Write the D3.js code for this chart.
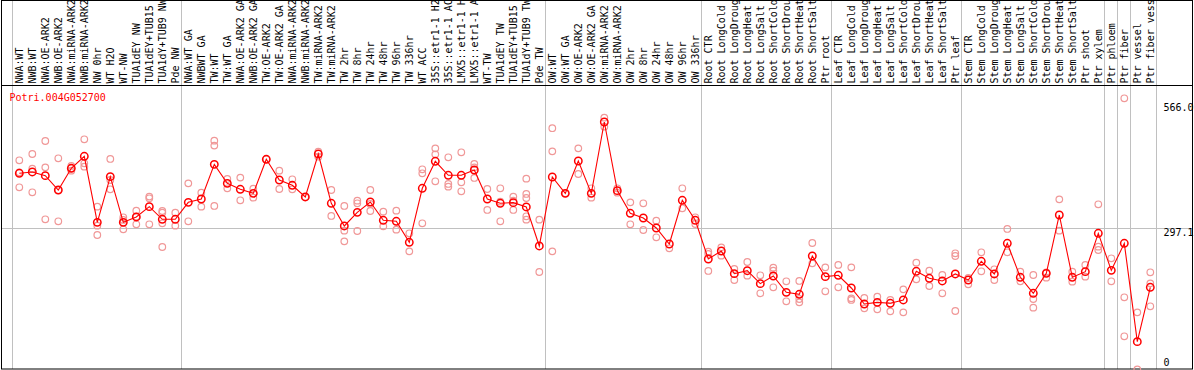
<!DOCTYPE html>
<html><head><meta charset="utf-8">
<script src="https://cdn.jsdelivr.net/npm/d3@7"></script>
<style>
html,body{margin:0;padding:0;background:#fff;}
svg{display:block;}
text{font-family:"DejaVu Sans Mono",monospace;font-size:10px;}
</style></head>
<body><svg id="chart" width="1194" height="370"></svg>
<script>
const geneName = "Potri.004G052700";
const categories = ["NWA:WT","NWB:WT","NWA:OE-ARK2","NWB:OE-ARK2","NWA:miRNA-ARK2","NWB:miRNA-ARK2","NW 0hr","WT H2O","WT-NW","TUA1dEY NW","TUA1dEY+TUB15 NW","TUA1dY+TUB9 NW","Pde NW","NWA:WT GA","NWBWT GA","TW:WT","TW:WT GA","NWA:OE-ARK2 GA","NWB:OE-ARK2 GA","TW:OE-ARK2","TW:OE-ARK2 GA","NWA:miRNA-ARK2 GA","NWB:miRNA-ARK2 GA","TW:miRNA-ARK2","TW:miRNA-ARK2 GA","TW 2hr","TW 8hr","TW 24hr","TW 48hr","TW 96hr","TW 336hr","WT ACC","35S::etr1-1 H2O","35S::etr1-1 ACC","LMX5::etr1-1 H2O","LMX5::etr1-1 ACC","WT-TW","TUA1dEY TW","TUA1dEY+TUB15 TW","TUA1dY+TUB9 TW","Pde TW","OW:WT","OW:WT GA","OW:OE-ARK2","OW:OE-ARK2 GA","OW:miRNA-ARK2","OW:miRNA-ARK2 GA","OW 2hr","OW 8hr","OW 24hr","OW 48hr","OW 96hr","OW 336hr","Root CTR","Root LongCold","Root LongDrought","Root LongHeat","Root LongSalt","Root ShortCold","Root ShortDrought","Root ShortHeat","Root ShortSalt","Ptr root","Leaf CTR","Leaf LongCold","Leaf LongDrought","Leaf LongHeat","Leaf LongSalt","Leaf ShortCold","Leaf ShortDrought","Leaf ShortHeat","Leaf ShortSalt","Ptr leaf","Stem CTR","Stem LongCold","Stem LongDrought","Stem LongHeat","Stem LongSalt","Stem ShortCold","Stem ShortDrought","Stem ShortHeat","Stem ShortSalt","Ptr shoot","Ptr xylem","Ptr phloem","Ptr fiber","Ptr vessel","Ptr fiber vessel"];
const means = [410.8,413.6,406.0,376.3,421.2,446.0,309.4,403.9,309.4,320.5,341.9,315.7,315.7,350.8,357.7,429.4,390.1,377.7,369.4,439.8,397.0,386.0,361.9,450.8,348.8,301.9,330.1,351.5,313.6,311.5,268.1,379.8,435.7,406.7,406.7,417.7,357.7,348.8,350.1,341.2,260.5,403.2,369.4,436.3,369.4,517.0,375.0,328.1,318.4,297.7,264.6,355.0,313.6,233.6,250.1,203.2,209.4,182.6,198.4,164.6,160.5,239.8,197.0,199.8,173.6,140.5,143.9,141.9,148.8,208.1,193.6,188.1,202.6,190.1,228.8,202.6,266.0,195.7,162.6,203.9,324.6,195.7,207.4,286.7,210.1,266.0,62.6,175.0];
const replicates = [
[437.7,412.9,381.9],[450.8,420.5,371.5],[477.7,423.2,315.7],[441.9,375.7,311.5],[426.0,421.2,416.3],[481.2,431.5,424.6],[341.9,302.6,283.2],[440.5,397.0,377.7],[319.8,314.3,295.0],[333.6,321.2,305.3],
[362.6,359.1,305.3],[332.9,329.4,307.4,258.4],[329.4,302.6],[390.1,311.5],[370.8,341.9],[478.4,468.1,343.3],[399.1,379.8],[401.9,355.0],[379.1,360.5],[439.8],
[416.3,378.4],[398.4,377.7],[361.9],[455.7,445.3],[376.3,322.6],[343.3,292.2,270.1],[354.3,348.8,291.5],[376.3,347.4,332.9],[331.5,301.2],[333.6,294.3],
[286.7,249.4],[419.1,410.8,307.4],[462.5,450.1,394.3],[443.9,388.8,383.2],[454.3,392.2,373.6],[430.1,423.2,401.2],[378.4,335.0],[379.8,352.2,311.5],[362.6,354.3,335.0],[399.8,368.1,359.8,321.9,315.0],
[315.0,206.7],[504.1,456.3,249.4],[369.4],[462.5,409.4],[379.8,360.5],[526.0,507.4],[379.8,370.8],[350.8,305.3],[348.8,293.6],[312.9,278.4],
[255.7],[379.8,338.4],[319.8,306.0],[248.8,244.0,208.8],[257.7,240.5],[212.9,190.1],[227.4,199.1],[199.8,162.6],[215.7,209.4,175.0],[187.4,146.0],
[188.1,150.8,143.9],[266.7,224.6],[216.3,166.7],[221.2,175.0],[216.3,152.2,148.8],[152.9,131.5],[155.7,129.4],[148.8,125.3],[170.8,123.2],[226.0,191.5],
[209.4,177.7],[200.5,162.6],[245.3,239.8,126.0],[194.3,181.2],[247.4,208.1],[212.2,190.1],[295.7,247.4],[207.4,187.4],[200.5,150.8,132.9],[206.0,195.0],
[357.0,292.2],[207.4,186.7],[221.2,197.0],[346.7,259.1,252.2],[235.0,187.4],[566.0,154.3,73.6],[123.2,5.3],[206.0,183.2,135.7]
];
const groupBreaks = [0,13,41,53,63,73,84,85,86,88];
const refValue = 297.1;
const tickValues = [566.0, 297.1, 0];
const tickLabels = ["566.0","297.1","0"];

const W = 1194, H = 370;
const svg = d3.select("#chart");
const x = d3.scaleLinear().domain([0, categories.length - 1]).range([19.3, 19.3 + 13 * (categories.length - 1)]);
const y = d3.scaleLinear().domain([0, 566]).range([371.9, 98.3]);
const sep = i => Math.round(x(i) - 7.8) + 0.5;

// grey separators
svg.append("g").selectAll("line").data(groupBreaks).join("line")
  .attr("x1", sep).attr("x2", sep).attr("y1", 0).attr("y2", 369)
  .attr("stroke", "#c0c0c0").attr("stroke-width", 1);
// reference horizontal line
svg.append("line").attr("x1", 1).attr("x2", 1192)
  .attr("y1", Math.round(y(refValue)) + 0.5).attr("y2", Math.round(y(refValue)) + 0.5)
  .attr("stroke", "#c0c0c0").attr("stroke-width", 1);

// frame
svg.append("rect").attr("x", 1.5).attr("y", 0.5).attr("width", 1191).attr("height", 368.5)
  .attr("fill", "none").attr("stroke", "#000").attr("stroke-width", 1);
svg.append("line").attr("x1", 1).attr("x2", 1193).attr("y1", 85.5).attr("y2", 85.5)
  .attr("stroke", "#000").attr("stroke-width", 1);

// category labels (vertical)
const labG = svg.append("g");
labG.selectAll("text").data(categories).join("text")
  .attr("transform", (d, i) => `translate(${x(i) + 4},83.5) rotate(-90)`)
  .attr("fill", "#000")
  .text(d => d);

// right axis labels
const axG = svg.append("g");
const labelY = [111, 236, 366];
axG.selectAll("text").data(tickValues).join("text")
  .attr("x", 1163.5).attr("y", (d, i) => labelY[i])
  .attr("fill", "#000").text((d, i) => tickLabels[i]);

// title
svg.append("text").attr("x", 9.5).attr("y", 100.5).attr("fill", "#ff0000").text(geneName);

// replicates
const reps = [];
replicates.forEach((arr, i) => arr.forEach(v => reps.push({i, v})));
svg.append("g").selectAll("circle").data(reps).join("circle")
  .attr("cx", d => x(d.i)).attr("cy", d => y(d.v)).attr("r", 3.3)
  .attr("fill", "none").attr("stroke", "#f09898").attr("stroke-width", 1.2);

// mean line
const line = d3.line().x((d, i) => x(i)).y(d => y(d));
svg.append("path").datum(means).attr("d", line)
  .attr("fill", "none").attr("stroke", "#ff0000").attr("stroke-width", 1.1);
svg.append("g").selectAll("circle").data(means).join("circle")
  .attr("cx", (d, i) => x(i)).attr("cy", d => y(d)).attr("r", 3.7)
  .attr("fill", "none").attr("stroke", "#ff0000").attr("stroke-width", 1.5);
</script></body></html>
